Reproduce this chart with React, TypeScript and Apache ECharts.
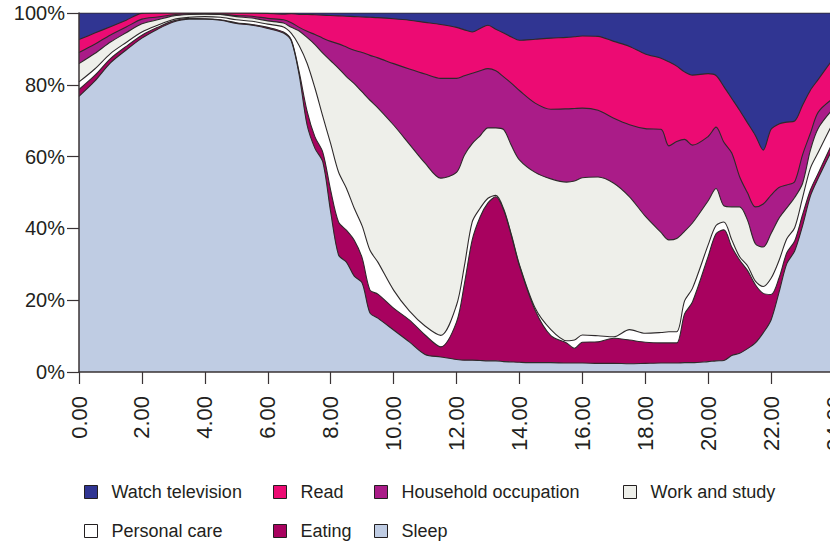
import React, { useEffect, useRef } from "react";
import * as echarts from "echarts";

// Time of day (hours)
const HOURS = [0, 0.5, 1, 1.5, 2, 2.5, 3, 3.5, 4, 4.5, 5, 5.5, 6, 6.5, 6.75, 7, 7.25, 7.5, 7.75, 8, 8.25, 8.5, 8.75, 9, 9.25, 9.5, 10, 10.5, 11, 11.5, 12, 12.25, 12.5, 12.75, 13, 13.25, 13.5, 13.75, 14, 14.5, 15, 15.5, 15.75, 16, 16.5, 17, 17.5, 18, 18.5, 18.75, 19, 19.25, 19.5, 20, 20.25, 20.5, 20.75, 21, 21.25, 21.5, 21.75, 22, 22.25, 22.5, 22.75, 23, 23.25, 23.5, 24];

// Share of people (%) doing each activity
const SLEEP = [76.8, 81.0, 86.1, 89.7, 93.0, 95.5, 97.5, 98.3, 98.3, 98.0, 97.1, 96.6, 95.7, 94.4, 92.2, 82.7, 68.8, 62.3, 58.5, 44.6, 32.6, 30.6, 26.7, 24.8, 16.4, 15.0, 11.7, 8.4, 4.9, 4.2, 3.5, 3.3, 3.3, 3.2, 3.1, 3.1, 2.9, 2.8, 2.7, 2.6, 2.6, 2.5, 2.5, 2.5, 2.4, 2.4, 2.3, 2.4, 2.5, 2.5, 2.5, 2.6, 2.6, 2.9, 3.1, 3.2, 4.6, 5.2, 6.5, 8.1, 10.9, 14.5, 22.1, 30.2, 33.7, 40.7, 49.0, 54.0, 63.0];
const EATING = [1.9, 1.6, 1.2, 1.0, 0.8, 0.5, 0.3, 0.2, 0.1, 0.1, 0.2, 0.2, 0.3, 0.3, 0.3, 0.8, 3.9, 3.2, 2.7, 6.0, 9.2, 8.9, 10.0, 7.0, 6.4, 6.7, 6.1, 6.1, 5.4, 2.8, 10.4, 21.2, 33.5, 40.0, 44.0, 45.7, 42.2, 35.0, 26.9, 14.6, 7.5, 5.6, 4.1, 5.8, 6.0, 7.0, 6.6, 5.9, 5.6, 5.6, 5.6, 13.6, 16.9, 29.3, 35.4, 36.4, 30.2, 26.0, 21.8, 16.2, 11.0, 7.1, 4.0, 3.0, 2.8, 3.1, 1.7, 1.4, 1.8];
const PERSONAL_CARE = [2.1, 1.8, 1.4, 1.1, 0.9, 0.6, 0.4, 0.3, 0.6, 0.7, 0.8, 0.9, 0.9, 1.4, 1.8, 7.4, 13.3, 13.6, 10.0, 13.0, 13.9, 11.7, 8.9, 8.9, 11.1, 8.9, 5.0, 2.5, 2.5, 3.2, 4.7, 5.0, 5.0, 2.4, 1.3, 0.4, 0.3, 0.3, 0.3, 0.6, 1.7, 0.6, 2.3, 2.0, 1.7, 0.4, 2.9, 2.5, 2.9, 3.1, 3.1, 3.6, 3.8, 3.2, 2.3, 2.2, 2.0, 0.9, 1.3, 1.0, 1.9, 4.5, 4.9, 3.9, 3.7, 4.7, 6.1, 5.8, 5.2];
const WORK_STUDY = [5.1, 4.3, 3.2, 2.7, 2.3, 1.5, 1.0, 0.8, 0.7, 0.8, 0.9, 0.9, 0.9, 1.1, 1.7, 4.1, 7.2, 12.1, 17.6, 23.1, 28.9, 31.1, 34.7, 37.3, 41.8, 43.0, 46.0, 46.5, 45.4, 43.8, 37.0, 30.9, 21.8, 20.2, 19.6, 18.8, 22.1, 24.9, 29.2, 37.8, 42.0, 44.2, 44.3, 43.8, 44.2, 42.8, 37.0, 32.6, 27.9, 25.6, 26.0, 19.4, 18.2, 12.3, 10.3, 4.5, 9.2, 13.9, 12.7, 10.4, 11.0, 12.5, 11.8, 8.6, 8.4, 4.0, 5.0, 6.7, 3.6];
const HOUSEHOLD = [3.1, 2.6, 2.0, 1.6, 1.3, 0.8, 0.3, 0.2, 0.1, 0.1, 0.3, 0.5, 0.7, 0.9, 1.3, 1.0, 1.7, 2.8, 4.2, 5.4, 6.8, 8.2, 9.3, 11.0, 12.5, 13.9, 17.1, 20.9, 24.8, 27.8, 26.2, 22.1, 19.6, 18.1, 16.5, 15.9, 14.7, 17.4, 19.3, 19.3, 19.4, 20.4, 20.2, 19.4, 18.6, 18.1, 20.1, 24.4, 28.7, 26.2, 27.0, 25.6, 21.7, 17.9, 17.1, 17.7, 15.0, 8.4, 7.6, 10.3, 12.0, 10.7, 8.6, 6.4, 4.4, 8.0, 4.7, 4.5, 2.8];
const READ = [3.6, 3.1, 2.3, 1.9, 1.6, 1.1, 0.5, 0.2, 0.2, 0.3, 0.7, 0.9, 1.4, 1.6, 2.5, 3.6, 4.7, 5.5, 6.4, 7.2, 7.8, 8.6, 9.4, 9.9, 10.6, 11.2, 12.5, 13.6, 14.4, 15.0, 14.2, 12.8, 11.5, 11.8, 12.1, 11.6, 12.2, 12.9, 14.0, 17.8, 19.8, 19.9, 20.0, 20.1, 20.6, 21.4, 21.8, 20.8, 19.8, 23.4, 21.0, 18.8, 19.5, 17.5, 14.4, 15.5, 15.2, 18.5, 19.5, 19.9, 15.0, 18.3, 17.7, 17.5, 16.9, 13.8, 12.0, 9.1, 11.2];
const TELEVISION = [7.4, 5.6, 3.8, 2.0, 0.1, 0, 0, 0, 0, 0, 0, 0, 0.1, 0.3, 0.2, 0.4, 0.4, 0.5, 0.6, 0.7, 0.8, 0.9, 1.0, 1.1, 1.2, 1.3, 1.6, 2.0, 2.6, 3.2, 4.0, 4.7, 5.3, 4.3, 3.4, 4.5, 5.6, 6.7, 7.6, 7.3, 7.0, 6.8, 6.6, 6.4, 6.5, 7.9, 9.3, 11.4, 12.6, 13.6, 14.8, 16.4, 17.3, 16.9, 17.4, 20.5, 23.8, 27.1, 30.6, 34.1, 38.2, 32.4, 30.9, 30.4, 30.1, 25.7, 21.5, 18.5, 12.4];

const Y_TICKS = [0, 20, 40, 60, 80, 100];

const FONT = "'Liberation Sans', Arial, Helvetica, sans-serif";
const TEXT_COLOR = "#231f20";
const AXIS_COLOR = "#3a3335";
const EDGE_COLOR = "#2e2a2b";

// bottom to top
const SERIES_DEF = [
  { name: "Sleep", values: SLEEP, color: "#bfcce3" },
  { name: "Eating", values: EATING, color: "#a8025f" },
  { name: "Personal care", values: PERSONAL_CARE, color: "#ffffff" },
  { name: "Work and study", values: WORK_STUDY, color: "#eeefea" },
  { name: "Household occupation", values: HOUSEHOLD, color: "#aa1c88" },
  { name: "Read", values: READ, color: "#ec0b73" },
  { name: "Watch television", values: TELEVISION, color: "#303592" },
];

const LEGEND_POS = [
  { name: "Watch television", left: 84, top: 482 },
  { name: "Read", left: 273, top: 482 },
  { name: "Household occupation", left: 374, top: 482 },
  { name: "Work and study", left: 623, top: 482 },
  { name: "Personal care", left: 84, top: 521 },
  { name: "Eating", left: 273, top: 521 },
  { name: "Sleep", left: 374, top: 521 },
];

export default function App() {
  const ref = useRef<HTMLDivElement>(null);

  useEffect(() => {
    if (!ref.current) return;
    const chart = echarts.init(ref.current, null, { renderer: "svg" });

    // Running totals (stack), so each band's upper edge is drawn as a filled line;
    // series are added top band first so lower bands paint over them.
    const running = HOURS.map(() => 0);
    const stacked = SERIES_DEF.map((s) => {
      const top = s.values.map((v, i) => (running[i] += v));
      return { ...s, top: top.slice() };
    });

    const series = stacked
      .slice()
      .reverse()
      .map((s) => ({
        name: s.name,
        type: "line",
        smooth: 0.3,
        symbol: "none",
        data: HOURS.map((h, i) => [h, Math.min(100, s.top[i])]),
        lineStyle: { color: EDGE_COLOR, width: 1.1 },
        areaStyle: { color: s.color, opacity: 1, origin: "start" },
        itemStyle: { color: s.color },
        emphasis: { disabled: true },
        z: 2,
      }));

    const legends = LEGEND_POS.map((l) => ({
      data: [l.name],
      left: l.left,
      top: l.top,
      padding: 0,
      icon: "rect",
      itemWidth: 13,
      itemHeight: 13,
      selectedMode: false,
      itemStyle: { borderColor: TEXT_COLOR, borderWidth: 1 },
      textStyle: {
        fontFamily: FONT,
        fontSize: 18,
        color: TEXT_COLOR,
        lineHeight: 20,
        padding: [0, 0, 0, 9],
      },
    }));

    chart.setOption({
      animation: false,
      backgroundColor: "#ffffff",
      grid: {
        left: 79,
        top: 13,
        width: 755,
        height: 359,
        containLabel: false,
        outerBoundsMode: "none",
      },
      legend: legends,
      xAxis: {
        type: "value",
        min: 0,
        max: 24,
        interval: 2,
        axisLine: { show: true, lineStyle: { color: AXIS_COLOR, width: 1.5 } },
        axisTick: { show: true, length: 12, lineStyle: { color: AXIS_COLOR, width: 1.2 } },
        splitLine: { show: false },
        axisLabel: {
          rotate: 90,
          margin: 24,
          fontFamily: FONT,
          fontSize: 22,
          color: TEXT_COLOR,
          padding: [14, 0, 0, 0],
          hideOverlap: false,
          formatter: (v: number) => v.toFixed(2),
        },
        z: 5,
      },
      yAxis: {
        type: "value",
        min: Y_TICKS[0],
        max: Y_TICKS[Y_TICKS.length - 1],
        interval: 20,
        axisLine: { show: true, lineStyle: { color: AXIS_COLOR, width: 1.5 } },
        axisTick: { show: true, length: 12, lineStyle: { color: AXIS_COLOR, width: 1.2 } },
        splitLine: { show: false },
        axisLabel: {
          margin: 14,
          fontFamily: FONT,
          fontSize: 20,
          color: TEXT_COLOR,
          padding: [8, 0, 0, 0],
          formatter: "{value}%",
        },
        z: 5,
      },
      series,
    });

    return () => chart.dispose();
  }, []);

  return (
    <div
      ref={ref}
      style={{ position: "fixed", left: 0, top: 0, width: 830, height: 541, background: "#fff" }}
    />
  );
}
